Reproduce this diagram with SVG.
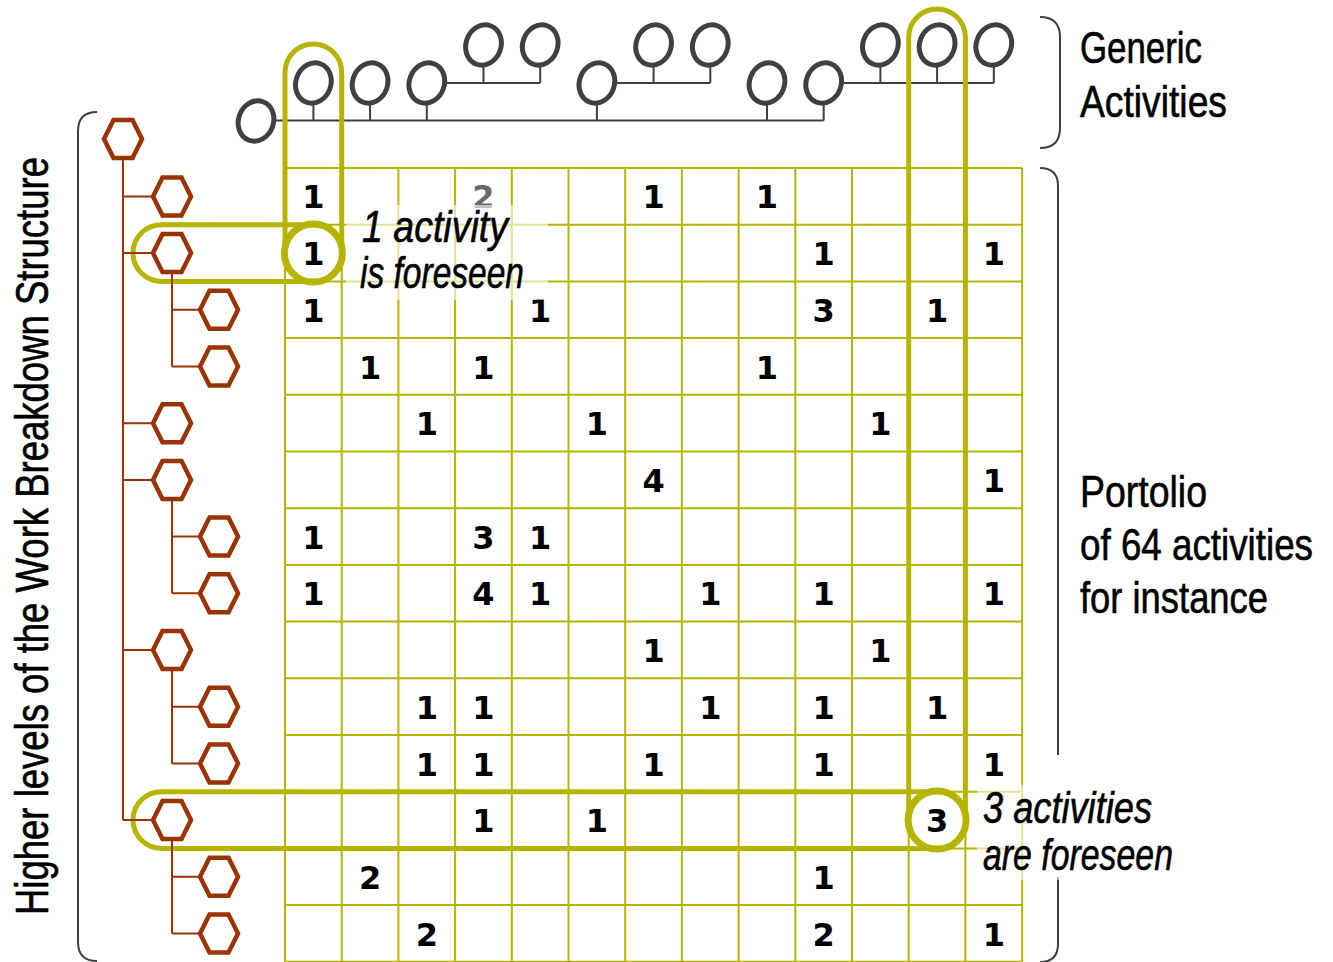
<svg xmlns="http://www.w3.org/2000/svg" xmlns:xlink="http://www.w3.org/1999/xlink" width="1333" height="962" viewBox="0 0 1333 962">
<style>
.grid{fill:none;stroke:#b5b500;stroke-width:2}
.hl{fill:none;stroke:#b5b500;stroke-width:5}
.ring{fill:#fff;stroke:#b5b500;stroke-width:7}
.num{font-family:"DejaVu Sans",sans-serif;font-weight:bold;font-size:32px;fill:#000;text-anchor:middle}
.tree{fill:none;stroke:#993300;stroke-width:2}
.hex{fill:#fff;stroke:#993300;stroke-width:4.5;stroke-linejoin:miter}
.act{fill:#fff;stroke:#404040;stroke-width:5}
.aline{fill:none;stroke:#404040;stroke-width:2}
.brk{fill:none;stroke:#404040;stroke-width:2}
.lbl{font-family:"Liberation Sans",sans-serif;font-size:44px;fill:#000;stroke:#000;stroke-width:0.6}
.it{font-family:"Liberation Sans",sans-serif;font-style:italic;font-size:44px;fill:#000;stroke:#000;stroke-width:0.6}
.veil{fill:#fff;opacity:0.6}
</style>
<defs>
<polygon id="hx" points="-19,0 -9.5,-19 9.5,-19 19,0 9.5,19 -9.5,19"/>
<ellipse id="ov" cx="0" cy="0" rx="17.5" ry="20.5" transform="rotate(20)"/>
</defs>

<!-- brackets -->
<g id="brackets">
<path class="brk" d="M97,112 Q78,112 78,131 L78,942 Q78,961 97,961"/>
<path class="brk" d="M1040,17 Q1060,17 1060,37 L1060,128 Q1060,148 1040,148"/>
<path class="brk" d="M1040,168 Q1058,168 1058,186 L1058,755 M1058,877 L1058,944 Q1058,962 1040,962"/>
</g>

<!-- grid -->
<g id="grid">
<path class="grid" d="M285,168V962 M341.7,168V962 M398.4,168V962 M455.1,168V962 M511.8,168V962 M568.5,168V962 M625.2,168V962 M681.9,168V962 M738.6,168V962 M795.3,168V962 M852,168V962 M908.7,168V962 M965.4,168V962 M1022.1,168V962"/>
<path class="grid" d="M285,168H1022.1 M285,224.7H1022.1 M285,281.4H1022.1 M285,338.1H1022.1 M285,394.8H1022.1 M285,451.5H1022.1 M285,508.2H1022.1 M285,564.9H1022.1 M285,621.6H1022.1 M285,678.3H1022.1 M285,735H1022.1 M285,791.7H1022.1 M285,848.4H1022.1 M285,905.1H1022.1 M285,961.8H1022.1"/>
</g>

<!-- numbers -->
<g id="numbers">
<text class="num" x="313.4" y="208">1</text>
<text class="num" x="483.5" y="208" style="fill:#6a6a6a">2</text>
<text class="num" x="653.6" y="208">1</text>
<text class="num" x="767" y="208">1</text>

<text class="num" x="823.7" y="265">1</text>
<text class="num" x="993.8" y="265">1</text>

<text class="num" x="313.4" y="322">1</text>
<text class="num" x="540.2" y="322">1</text>
<text class="num" x="823.7" y="322">3</text>
<text class="num" x="937.1" y="322">1</text>

<text class="num" x="370.1" y="378.5">1</text>
<text class="num" x="483.5" y="378.5">1</text>
<text class="num" x="767" y="378.5">1</text>

<text class="num" x="426.8" y="435">1</text>
<text class="num" x="596.9" y="435">1</text>
<text class="num" x="880.4" y="435">1</text>

<text class="num" x="653.6" y="492">4</text>
<text class="num" x="993.8" y="492">1</text>

<text class="num" x="313.4" y="548.5">1</text>
<text class="num" x="483.5" y="548.5">3</text>
<text class="num" x="540.2" y="548.5">1</text>

<text class="num" x="313.4" y="605">1</text>
<text class="num" x="483.5" y="605">4</text>
<text class="num" x="540.2" y="605">1</text>
<text class="num" x="710.3" y="605">1</text>
<text class="num" x="823.7" y="605">1</text>
<text class="num" x="993.8" y="605">1</text>

<text class="num" x="653.6" y="662">1</text>
<text class="num" x="880.4" y="662">1</text>

<text class="num" x="426.8" y="718.5">1</text>
<text class="num" x="483.5" y="718.5">1</text>
<text class="num" x="710.3" y="718.5">1</text>
<text class="num" x="823.7" y="718.5">1</text>
<text class="num" x="937.1" y="718.5">1</text>

<text class="num" x="426.8" y="775.5">1</text>
<text class="num" x="483.5" y="775.5">1</text>
<text class="num" x="653.6" y="775.5">1</text>
<text class="num" x="823.7" y="775.5">1</text>
<text class="num" x="993.8" y="775.5">1</text>

<text class="num" x="483.5" y="832">1</text>
<text class="num" x="596.9" y="832">1</text>

<text class="num" x="370.1" y="889">2</text>
<text class="num" x="823.7" y="889">1</text>

<text class="num" x="426.8" y="945.5">2</text>
<text class="num" x="823.7" y="945.5">2</text>
<text class="num" x="993.8" y="945.5">1</text>
</g>

<!-- veils behind callout texts -->
<rect class="veil" x="346" y="205" width="202" height="95"/>
<rect class="veil" x="977" y="785" width="203" height="95"/>

<!-- generic activities tree -->
<g id="activities">
<path class="aline" d="M276,120.5H823.7 M313.4,103V120.5 M370.1,103V120.5 M426.8,103V120.5 M596.9,103V120.5 M767,103V120.5 M823.7,103V120.5"/>
<path class="aline" d="M447,83H540.2 M483.5,65V83 M540.2,65V83"/>
<path class="aline" d="M617,83H710.3 M653.6,65V83 M710.3,65V83"/>
<path class="aline" d="M844,83H993.8 M880.4,65V83 M937.1,65V83 M993.8,65V83"/>
<use href="#ov" class="act" x="256" y="121"/>
<use href="#ov" class="act" x="313.4" y="83"/>
<use href="#ov" class="act" x="370.1" y="83"/>
<use href="#ov" class="act" x="426.8" y="83"/>
<use href="#ov" class="act" x="483.5" y="45"/>
<use href="#ov" class="act" x="540.2" y="45"/>
<use href="#ov" class="act" x="596.9" y="83"/>
<use href="#ov" class="act" x="653.6" y="45"/>
<use href="#ov" class="act" x="710.3" y="45"/>
<use href="#ov" class="act" x="767" y="83"/>
<use href="#ov" class="act" x="823.7" y="83"/>
<use href="#ov" class="act" x="880.4" y="45"/>
<use href="#ov" class="act" x="937.1" y="45"/>
<use href="#ov" class="act" x="993.8" y="45"/>
</g>

<!-- highlights -->
<g id="highlights">
<rect class="hl" x="285" y="44" width="56.7" height="237.4" rx="28.35"/>
<rect class="hl" x="133" y="224.7" width="208.7" height="56.7" rx="28.35"/>
<rect class="hl" x="908.7" y="9" width="56.7" height="839.4" rx="28.35"/>
<rect class="hl" x="133" y="791.7" width="832.4" height="56.7" rx="28.35"/>
<circle class="ring" cx="313.4" cy="253.1" r="29"/>
<circle class="ring" cx="937.1" cy="820.1" r="29"/>
<text class="num" x="313.4" y="265">1</text>
<text class="num" x="937.1" y="832">3</text>
</g>

<!-- WBS tree -->
<g id="wbs-connectors">
<path class="tree" d="M123,158V820.1 M123,196.4H153 M123,253.1H153 M123,423.2H153 M123,479.9H153 M123,650H153 M123,820.1H153"/>
<path class="tree" d="M172,272V366.5 M172,309.8H200 M172,366.5H200"/>
<path class="tree" d="M172,499V593.3 M172,536.6H200 M172,593.3H200"/>
<path class="tree" d="M172,669V763.4 M172,706.7H200 M172,763.4H200"/>
<path class="tree" d="M172,839V933.5 M172,876.8H200 M172,933.5H200"/>
</g>
<g id="wbs-nodes">
<use href="#hx" class="hex" x="123" y="139"/>
<use href="#hx" class="hex" x="172" y="196.4"/>
<use href="#hx" class="hex" x="172" y="253.1"/>
<use href="#hx" class="hex" x="219" y="309.8"/>
<use href="#hx" class="hex" x="219" y="366.5"/>
<use href="#hx" class="hex" x="172" y="423.2"/>
<use href="#hx" class="hex" x="172" y="479.9"/>
<use href="#hx" class="hex" x="219" y="536.6"/>
<use href="#hx" class="hex" x="219" y="593.3"/>
<use href="#hx" class="hex" x="172" y="650"/>
<use href="#hx" class="hex" x="219" y="706.7"/>
<use href="#hx" class="hex" x="219" y="763.4"/>
<use href="#hx" class="hex" x="172" y="820.1"/>
<use href="#hx" class="hex" x="219" y="876.8"/>
<use href="#hx" class="hex" x="219" y="933.5"/>
</g>

<!-- labels -->
<g id="labels">
<text class="lbl" x="1080" y="63" textLength="122" lengthAdjust="spacingAndGlyphs">Generic</text>
<text class="lbl" x="1080" y="117" textLength="147" lengthAdjust="spacingAndGlyphs">Activities</text>
<text class="lbl" x="1080" y="507" textLength="127" lengthAdjust="spacingAndGlyphs">Portolio</text>
<text class="lbl" x="1080" y="560" textLength="233" lengthAdjust="spacingAndGlyphs">of 64 activities</text>
<text class="lbl" x="1080" y="613" textLength="188" lengthAdjust="spacingAndGlyphs">for instance</text>
<text class="lbl" transform="translate(48,915) rotate(-90)" x="0" y="0" textLength="758" lengthAdjust="spacingAndGlyphs" style="font-size:46px">Higher levels of the Work Breakdown Structure</text>
<text class="it" x="362" y="242" textLength="146" lengthAdjust="spacingAndGlyphs">1 activity</text>
<text class="it" x="360" y="288" textLength="164" lengthAdjust="spacingAndGlyphs">is foreseen</text>
<text class="it" x="983" y="823" textLength="169" lengthAdjust="spacingAndGlyphs">3 activities</text>
<text class="it" x="983" y="870" textLength="190" lengthAdjust="spacingAndGlyphs">are foreseen</text>
</g>
</svg>
